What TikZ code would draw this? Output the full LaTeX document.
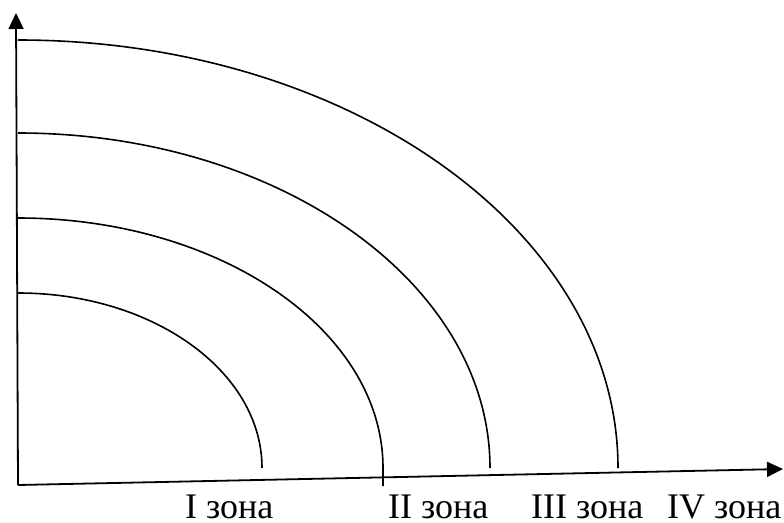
\documentclass[tikz,border=0pt]{standalone}
\usepackage{fontspec}
\setmainfont{Liberation Serif}
\usetikzlibrary{arrows.meta}
\begin{document}
\begin{tikzpicture}[x=1pt,y=-1pt,
  axis/.style={line width=1.8pt,-{Triangle[length=16pt,width=15pt]}},
  zone/.style={line width=1.6pt},
  lbl/.style={anchor=base west,inner sep=0pt,font=\fontsize{36}{40}\selectfont}]
\useasboundingbox (0,0) rectangle (784,522);
\coordinate (O) at (18,485);
\coordinate (Ytip) at (16,13);
\coordinate (Xtip) at (783,469);
\draw[axis] (O) -- (Ytip);
\draw[axis] (O) -- (Xtip);
\draw[zone] (18,293) arc[start angle=-90,end angle=0,x radius=244,y radius=175];
\draw[zone] (18,218) arc[start angle=-90,end angle=0,x radius=365,y radius=250] -- (383,486);
\draw[zone] (18,133) arc[start angle=-90,end angle=0,x radius=472,y radius=335];
\draw[zone] (18,40) arc[start angle=-90,end angle=0,x radius=600,y radius=428];
\node[lbl] (z1) at (185,518) {I зона};
\node[lbl] (z2) at (388,518) {II зона};
\node[lbl] (z3) at (531,518) {III зона};
\node[lbl] (z4) at (667,518) {IV зона};
\end{tikzpicture}
\end{document}
